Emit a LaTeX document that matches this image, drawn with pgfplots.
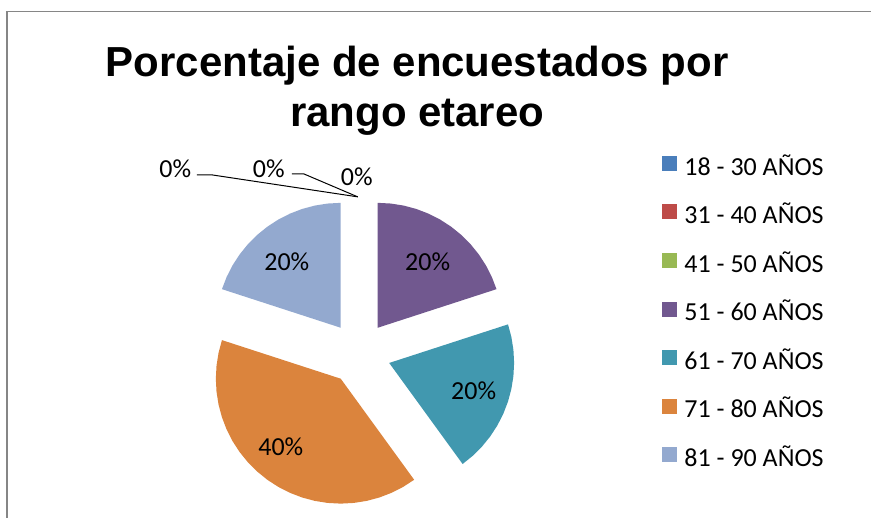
\documentclass[border=0pt]{standalone}
\usepackage{pgfplots}
\pgfplotsset{compat=1.18}
\usepackage{fontspec}
\setmainfont{Carlito}
\newfontfamily\titlefont{Liberation Sans}
\definecolor{cblue}{HTML}{4A7EBB}
\definecolor{cred}{HTML}{BE4B48}
\definecolor{cgreen}{HTML}{98B954}
\definecolor{cpurple}{HTML}{71588F}
\definecolor{cteal}{HTML}{4198AF}
\definecolor{corange}{HTML}{DB843D}
\definecolor{clight}{HTML}{93A9CF}
\definecolor{cframe}{HTML}{868686}
\begin{document}
\begin{tikzpicture}
\begin{axis}[
  at={(0,0)}, anchor=south west,
  width=654pt, height=388.5pt, scale only axis,
  xmin=-359.5, xmax=512.5, ymin=-164.5, ymax=353.5,
  hide axis, clip=false,
  legend style={draw=none, fill=none, inner sep=0pt, outer sep=0pt,
    at={(0.7603,0.6988)}, anchor=north west,
    row sep=18pt, column sep=5.25pt,
    nodes={inner sep=0pt, text height=13pt, text depth=4pt,
      font=\fontsize{19.5}{23}\selectfont}},
  legend cell align=left,
  legend image code/.code={\fill[#1, draw=none] (0pt,-1.3pt) rectangle (11.25pt,9.95pt);},
]
\path (axis cs:-359.5,-164.5) rectangle (axis cs:512.5,353.5);
% frame
\draw[cframe, line width=1.5pt] (axis cs:-352.5,-164.5) -- (axis cs:-352.5,342);
\draw[cframe, line width=1pt] (axis cs:-353.5,342) -- (axis cs:512.5,342);
% data: 18-30 0%, 31-40 0%, 41-50 0%, 51-60 20%, 61-70 20%, 71-80 40%, 81-90 20%
% 51 - 60 (20%): 90 -> 18 deg
\addplot[forget plot, fill=cpurple, draw=none, data cs=polar, xshift=13.875pt, yshift=19.125pt]
  coordinates {(0,0) (90,125) (84,125) (78,125) (72,125) (66,125) (60,125) (54,125) (48,125) (42,125) (36,125) (30,125) (24,125) (18,125)};
% 61 - 70 (20%): 18 -> -54 deg
\addplot[forget plot, fill=cteal, draw=none, data cs=polar, xshift=22.5pt, yshift=-7.3pt]
  coordinates {(0,0) (18,125) (12,125) (6,125) (0,125) (-6,125) (-12,125) (-18,125) (-24,125) (-30,125) (-36,125) (-42,125) (-48,125) (-54,125)};
% 71 - 80 (40%): -54 -> -198 deg
\addplot[forget plot, fill=corange, draw=none, data cs=polar, xshift=-13.875pt, yshift=-19.125pt]
  coordinates {(0,0) (-54,125) (-60,125) (-66,125) (-72,125) (-78,125) (-84,125) (-90,125) (-96,125) (-102,125) (-108,125) (-114,125) (-120,125) (-126,125) (-132,125) (-138,125) (-144,125) (-150,125) (-156,125) (-162,125) (-168,125) (-174,125) (-180,125) (-186,125) (-192,125) (-198,125)};
% 81 - 90 (20%): -198 -> -270 deg
\addplot[forget plot, fill=clight, draw=none, data cs=polar, xshift=-13.875pt, yshift=19.125pt]
  coordinates {(0,0) (-198,125) (-204,125) (-210,125) (-216,125) (-222,125) (-228,125) (-234,125) (-240,125) (-246,125) (-252,125) (-258,125) (-264,125) (-270,125)};
% leader lines for the 0% labels
\addplot[forget plot, black, line width=0.75pt] coordinates {(-162.5,178.5) (-147.5,178.5) (-1.5,156.5)};
\addplot[forget plot, black, line width=0.75pt] coordinates {(-67.5,179.5) (-55.5,179.5) (-1.5,156.5)};
% legend
\addlegendimage{fill=cblue}\addlegendentry{18 - 30 AÑOS}
\addlegendimage{fill=cred}\addlegendentry{31 - 40 AÑOS}
\addlegendimage{fill=cgreen}\addlegendentry{41 - 50 AÑOS}
\addlegendimage{fill=cpurple}\addlegendentry{51 - 60 AÑOS}
\addlegendimage{fill=cteal}\addlegendentry{61 - 70 AÑOS}
\addlegendimage{fill=corange}\addlegendentry{71 - 80 AÑOS}
\addlegendimage{fill=clight}\addlegendentry{81 - 90 AÑOS}
% data labels
\begin{scope}[every node/.style={inner sep=0pt, font=\fontsize{19.5}{23}\selectfont}]
\node at (axis cs:-72.5,91.5) {20\%};
\node at (axis cs:68.5,91.5) {20\%};
\node at (axis cs:114.5,-37.5) {20\%};
\node at (axis cs:-78.5,-93.5) {40\%};
\node at (axis cs:-184,185) {0\%};
\node at (axis cs:-90.5,185) {0\%};
\node at (axis cs:-2.5,177) {0\%};
\end{scope}
% title
\node[anchor=base, inner sep=0pt, font=\titlefont\bfseries\fontsize{31.5}{36}\selectfont] at (axis cs:58,276.5) {Porcentaje de encuestados por};
\node[anchor=base, inner sep=0pt, font=\titlefont\bfseries\fontsize{31.5}{36}\selectfont] at (axis cs:58,226.5) {rango etareo};
\end{axis}
\end{tikzpicture}
\end{document}
